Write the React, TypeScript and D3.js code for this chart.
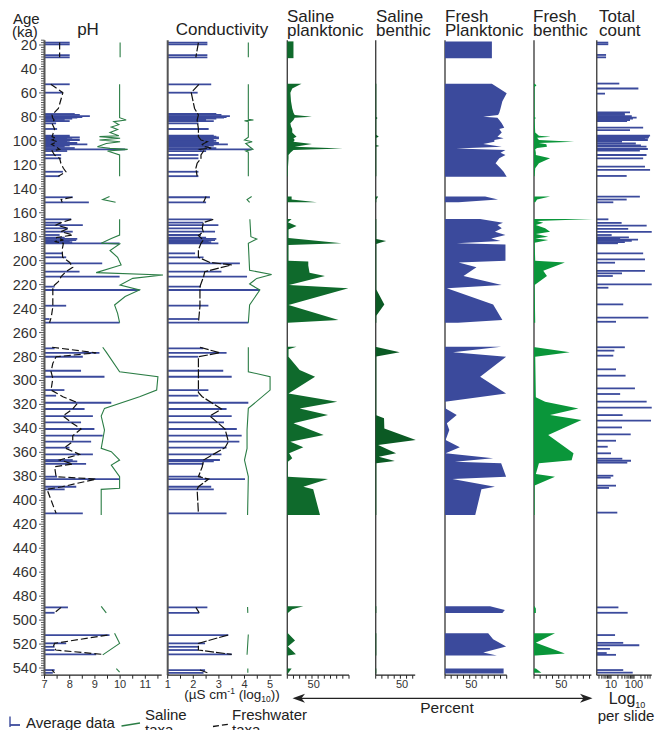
import React from "react";
import * as d3 from "d3";

type Pt = [number, number]; // [age ka, value]

// age ranges with no samples (lines and areas break across them)
const gaps: Pt[] = [[32, 50], [132, 145], [153, 163], [254, 270], [413, 487], [496, 510], [531, 539]];

const ageTicks = d3.range(20, 541, 20);
const phTicks = [7, 8, 9, 10, 11];
const condTicks = [1, 2, 3, 4, 5];
const countLabels = [10, 100];

// ---- pH ----
const phAvg: Pt[] = [
  [18, 8.0], [19.5, 8.0], [28.5, 8.0], [30.3, 8.0],
  [52.8, 8.0], [59.8, 7.73], [77.6, 8.2], [78.4, 8.4], [79.3, 8.8], [80.1, 8.5], [80.7, 8.3], [81.5, 8.1], [82.6, 7.8], [83.5, 8.0], [85.4, 7.46],
  [90.1, 7.5], [95.7, 8.0], [96.5, 8.0], [97.2, 8.4], [97.9, 7.9], [98.6, 8.1], [99.3, 8.4], [100, 8.0], [100.7, 7.9], [101.8, 8.3], [102.9, 8.7],
  [103.9, 8.0], [104.9, 7.8], [106, 8.2], [107.1, 10.2], [108.5, 7.9], [111.8, 7.66], [114.6, 7.66], [125.8, 7.73], [129.5, 7.6],
  [147.1, 8.12], [151.3, 8.76],
  [165.5, 8.06], [168.3, 7.66], [170.3, 8.52], [173, 7.93], [175.8, 8.12], [178.6, 7.6], [180.8, 7.8], [181.8, 8.3], [182.8, 8.26], [183.8, 8.0],
  [184.6, 8.1], [185.5, 9.98], [193.9, 7.73], [197.2, 7.86], [202.2, 9.29], [209.2, 8.39], [213.4, 9.98], [221.7, 7.4], [224.5, 10.77],
  [237.6, 7.86], [248.7, 7.2], [251.8, 9.98],
  [273.2, 7.4], [276.9, 9.18], [280.2, 8.52], [291.9, 8.45], [296.9, 9.38], [308, 7.79], [312.7, 7.46], [318.6, 9.65], [323.8, 8.59],
  [329.7, 8.92], [335, 8.45], [340.5, 8.98], [346.1, 9.31], [351.1, 8.85], [356.1, 7.99], [361.7, 8.92], [366.4, 8.12], [367.5, 8.3],
  [369.7, 8.65], [380.3, 7.5], [382.3, 9.98], [388.7, 8.26], [390.9, 7.8], [410.9, 8.52],
  [489.4, 7.93], [493.9, 7.4],
  [512.5, 9.58], [519.4, 7.86], [522.3, 7.4], [525, 7.4], [528.6, 9.05],
  [541.7, 7.4], [544, 7.33],
];
const phFresh: Pt[] = [
  [18, 7.6], [30.3, 7.6],
  [52.8, 7.25], [59.8, 7.73], [73, 7.55], [78.4, 7.3], [80.7, 7.32], [82.6, 7.38], [85.4, 7.3], [90.1, 7.4], [96.5, 7.3], [97.9, 7.45],
  [99.3, 7.3], [100.7, 7.5], [102.9, 7.28], [104.9, 7.45], [107.1, 7.6], [108.5, 7.3], [111.8, 7.4], [114.6, 7.6], [118.7, 7.65],
  [122.9, 7.75], [125.8, 7.85], [129.5, 7.55],
  [147.1, 8.1], [149, 7.66], [151.3, 7.7],
  [165.5, 8.06], [168.3, 7.66], [170.3, 7.46], [173, 7.95], [175.8, 7.66], [178.6, 8.12], [180.8, 7.46], [182.8, 7.75], [184, 7.4],
  [185.5, 7.75], [191, 7.7], [197.2, 7.72], [201.5, 8.0], [205.6, 8.12], [209.2, 7.85], [213.4, 7.66], [217.5, 7.55], [221.7, 7.33],
  [230, 7.33], [238.6, 7.33], [247, 7.27], [251.8, 7.2],
  [272.3, 7.3], [276.9, 9.05], [280.2, 7.46], [285.7, 7.33], [292.7, 7.26], [298.2, 7.33], [308, 7.26], [313.6, 7.73], [318.6, 8.32],
  [323.8, 8.12], [329.7, 7.73], [335, 8.06], [340.5, 8.45], [346.1, 8.12], [351.1, 8.12], [356.1, 7.79], [361.7, 8.39], [366.4, 7.6],
  [369.7, 8.12], [372, 7.4], [380.3, 7.46], [382.3, 9.05], [388.7, 7.7], [390.9, 7.1], [410.9, 7.46],
  [489.4, 7.66], [493.9, 7.4],
  [512.5, 9.5], [519.4, 7.4], [522.3, 7.35], [525, 7.45], [528.6, 9.3],
  [541.7, 7.3], [544, 7.4],
];
const phSaline: Pt[] = [
  [18, 10.0], [30.3, 10.0],
  [52.8, 9.98], [80.7, 9.98], [82.6, 10.24], [84, 9.75], [86.5, 9.95], [88.5, 9.65], [90.5, 9.9], [93, 9.6], [95.7, 9.95], [96.5, 9.18],
  [97.9, 10.0], [99.3, 9.18], [100.7, 10.0], [102.2, 9.45], [104.9, 9.1], [106.3, 9.6], [107.1, 10.3], [108.5, 9.5], [111.8, 9.98],
  [129.5, 9.98],
  [146.5, 9.58], [149, 9.31], [151.3, 9.82],
  [165.5, 9.98], [178.6, 9.98], [181.5, 9.65], [185.5, 9.25], [186, 9.98], [191.5, 9.6], [197.2, 9.9], [203.6, 10.04], [210, 9.05],
  [212, 11.7], [214.8, 10.5], [220.3, 10.0], [224.5, 10.77], [230, 10.2], [237, 9.78], [244, 9.9], [251.8, 9.98],
  [272.3, 9.31], [276.4, 9.45], [292.7, 9.98], [296.9, 11.5], [308, 11.45], [313.6, 10.77], [323.3, 9.38], [329.7, 9.25], [341.4, 9.38],
  [356.7, 9.25], [359.4, 9.65], [366.4, 9.98], [370.6, 9.65], [380.3, 9.98], [390, 9.98], [390.9, 9.25], [412.3, 9.25],
  [488.5, 9.25], [494, 9.45],
  [511, 9.78], [519.4, 9.98], [529, 9.31],
  [540.5, 9.85], [543.5, 9.98],
];

// ---- conductivity (log10 uS/cm) ----
const condAvg: Pt[] = [
  [18, 2.55], [19.5, 2.55], [28.5, 2.55], [30.3, 2.55],
  [52.8, 2.7], [59.8, 2.17], [77.6, 2.9], [78.4, 3.1], [79.3, 3.43], [80.1, 3.3], [80.7, 3.2], [81.5, 2.9], [82.6, 2.5], [83.5, 2.8],
  [85.4, 2.2], [90.1, 2.6], [95.7, 2.8], [96.5, 2.9], [97.2, 3.0], [97.9, 3.0], [98.6, 2.8], [99.3, 2.7], [100, 2.9], [100.7, 2.8],
  [101.8, 3.0], [102.9, 3.35], [103.9, 2.8], [104.9, 2.6], [106, 2.9], [107.1, 4.28], [108.5, 2.5], [111.8, 2.2], [114.6, 2.2],
  [125.8, 2.2], [129.5, 2.2],
  [147.1, 2.65], [151.3, 2.5],
  [165.5, 2.72], [168.3, 2.39], [170.3, 2.98], [173, 2.35], [175.8, 2.85], [178.6, 2.3], [180.8, 2.5], [181.8, 2.9], [182.8, 2.85],
  [183.8, 2.6], [184.6, 2.7], [185.5, 2.98], [193.9, 2.07], [197.2, 2.4], [202.2, 3.82], [209.2, 3.1], [213.4, 4.1], [221.7, 2.3],
  [224.5, 4.6], [237.6, 2.59], [248.7, 2.2], [251.8, 4.15],
  [273.2, 2.39], [276.9, 3.3], [280.2, 2.2], [291.9, 3.17], [296.9, 3.5], [308, 2.59], [312.7, 2.2], [318.6, 4.15], [323.8, 3.3],
  [329.7, 3.5], [335, 3.2], [340.5, 3.7], [346.1, 3.89], [351.1, 3.8], [356.1, 3.3], [361.7, 3.1], [366.4, 3.04], [367.5, 2.8],
  [369.7, 2.4], [380.3, 2.3], [382.3, 4.02], [388.7, 2.7], [390.9, 2.8], [410.9, 3.3],
  [489.4, 2.55], [493.9, 2.23],
  [512.5, 3.37], [519.4, 2.46], [522.3, 2.2], [525, 2.2], [528.6, 3.5],
  [541.7, 2.46], [544, 2.4],
];
const condFresh: Pt[] = [
  [18, 2.2], [30.3, 2.1],
  [52.8, 2.22], [59.8, 1.92], [73, 2.05], [78.4, 2.2], [82.6, 2.15], [90.1, 2.2], [96.5, 2.2], [99.3, 2.3], [100.7, 2.55], [102.9, 2.35],
  [104.9, 2.45], [106, 2.7], [107.1, 2.25], [108.5, 2.4], [111.8, 2.3], [114.6, 2.3], [118.7, 2.15], [122.9, 2.1], [129.5, 2.15],
  [146.5, 2.5], [151.3, 2.4],
  [165.5, 2.78], [168.3, 2.39], [173, 2.35], [176, 2.39], [179, 2.2], [182.8, 2.39], [185.5, 2.3], [191, 2.2], [197.2, 2.2],
  [201.5, 2.65], [203.6, 3.5], [209.2, 2.45], [213.4, 2.4], [221.7, 2.26], [238, 2.26], [251.8, 2.2],
  [272.3, 2.26], [276.9, 3.04], [280.2, 2.2], [285.7, 2.2], [310, 2.2], [313.6, 2.35], [323.8, 3.1], [329.7, 2.65], [340.5, 3.24],
  [351.1, 3.37], [356.1, 3.24], [361.7, 2.78], [366.4, 2.4], [372, 2.35], [380.3, 2.2], [382.3, 2.6], [388.7, 2.2], [390.9, 2.15],
  [410.9, 2.2],
  [489.4, 2.1], [493.9, 2.23],
  [512.5, 3.35], [519.4, 2.2], [525, 2.2], [528.6, 3.5],
  [541.7, 2.26], [544, 2.55],
];
const condSaline: Pt[] = [
  [18, 4.15], [30.3, 4.15],
  [52.8, 4.15], [82, 4.15], [82.6, 4.35], [83.3, 4.0], [84, 4.15], [97, 4.15], [99.3, 4.0], [100.7, 4.3], [102.2, 4.05], [104.9, 4.2],
  [107.1, 4.33], [108.5, 4.05], [109.5, 4.15], [129.5, 4.15],
  [146.5, 4.28], [149, 4.1], [151.3, 4.2],
  [165.5, 4.21], [180, 4.25], [182, 4.48], [185.5, 4.15], [208, 4.2], [211.5, 5.06], [214.8, 4.48], [219.5, 4.2], [224.5, 4.6],
  [237, 4.2], [251.8, 4.15],
  [272.3, 4.15], [292.7, 4.15], [296.9, 5.0], [308, 5.0], [323.3, 4.15], [341.4, 4.1], [356.7, 4.1], [366.4, 4.0], [380.3, 4.15],
  [412.3, 4.12],
  [489, 4.12], [494, 4.13],
  [512, 4.15], [529, 4.1],
  [540.5, 4.13], [544, 4.13],
];

// ---- diatom groups (%) ----
const salPlank: Pt[] = [
  [17, 10], [31, 10],
  [52.3, 23], [56.3, 8], [59.8, 5], [67, 6], [73, 8], [76.5, 10], [78.4, 12], [79.8, 40], [80.7, 12], [82.6, 10], [85.4, 5], [88, 6],
  [90.1, 8], [93, 8], [96.5, 15], [97.9, 10], [99.3, 12], [100.7, 10], [102.6, 40], [104.9, 12], [106.3, 90], [107.6, 10], [109.9, 5],
  [111.8, 2], [114.6, 2], [122.9, 1], [129.5, 1],
  [146.5, 7], [149, 7], [151.3, 48],
  [165.2, 7], [168, 1], [171, 15], [174, 2], [181, 2], [185.5, 88], [187, 2], [200, 2], [200.8, 34], [204, 34], [210, 36], [212.8, 61],
  [220.3, 3], [223.1, 99], [237, 2], [249.5, 83], [251.8, 1],
  [271.8, 15], [274, 2], [280.2, 2], [291.3, 20], [296.9, 45], [310.8, 2], [317.8, 81], [323.3, 20], [328.9, 66], [335.8, 10],
  [345.6, 59], [351.1, 5], [355.8, 26], [360.8, 3], [365, 8], [367.8, 1], [380.3, 1], [382.3, 66], [388.7, 26], [390.9, 42],
  [412.3, 53],
  [488.5, 26], [491, 8], [494, 1],
  [511, 1], [517, 12.5], [522, 1], [528.6, 14], [529.5, 1],
  [540.5, 7], [544.5, 1],
];
const salBenth: Pt[] = [
  [52.3, 1], [80, 1], [81, 3], [82, 1], [95, 1], [96.5, 5], [97.5, 1], [103.5, 1], [104.3, 6], [105, 1], [129.5, 1],
  [146.5, 4], [149, 1], [151.3, 1],
  [165.2, 1], [182, 1], [183.5, 17], [185, 7], [186, 1], [218, 1], [224, 1], [236.5, 14], [246, 1], [251.8, 1],
  [272, 1], [276.4, 39], [280, 1], [329, 1], [331.6, 13.5], [340, 14], [349.7, 65], [353.9, 4], [360.8, 33], [363.6, 5], [367.2, 31],
  [369.2, 1], [412.3, 1],
  [488.5, 1], [494, 1],
  [511, 1], [529.5, 1],
  [540.5, 1], [544.5, 1],
];
const freshPlank: Pt[] = [
  [17, 76], [31, 76],
  [52.3, 76], [56.3, 88], [60.3, 100], [67, 93], [73, 90], [76.5, 88], [78.4, 86], [79.8, 62], [80.7, 85], [82.6, 88], [85.4, 92],
  [89, 96], [90.1, 88], [93, 92], [96.5, 85], [97.9, 95], [99.3, 80], [100.7, 80], [102.6, 62], [104.9, 92], [106.3, 18], [107.6, 98],
  [109.9, 90], [111.8, 98], [114.6, 88], [118.7, 82], [122.9, 90], [125.8, 95], [129.9, 100],
  [146.5, 65], [149, 86], [151.3, 22],
  [165.2, 57], [168.3, 94], [170.3, 85], [173, 92], [175.8, 81], [178.6, 98], [181.5, 75], [183.5, 90], [185.5, 19], [186.5, 98],
  [200, 98], [201.5, 22], [205.6, 51], [212.8, 30], [220.3, 92], [223.1, 3], [236.5, 78], [249.5, 93], [251.8, 21],
  [271.8, 91], [276.4, 13], [280.2, 99], [296.9, 57], [310.8, 99], [317.8, 0], [323.3, 1], [328.9, 19], [335.8, 3], [341.4, 7],
  [349.7, 1], [355.8, 24], [360.8, 1], [365, 78], [367.8, 16], [369.2, 91], [380.3, 99], [382.3, 12], [388.7, 81], [390.9, 59],
  [412.3, 49],
  [488.5, 73], [491.5, 97], [494, 93],
  [511, 70], [516, 78], [522, 99], [527, 62], [529.5, 84],
  [540.5, 95], [544.5, 95],
];
const freshBenth: Pt[] = [
  [52.3, 1], [53.5, 4], [55, 1], [80, 1], [81, 3], [82, 1], [93, 2], [95.7, 8], [96.5, 27], [97.5, 5], [99.3, 8], [100.7, 65],
  [101.8, 8], [102.9, 20], [104.9, 21], [106, 5], [107.1, 2], [109.9, 3], [111.8, 3], [114.6, 26], [118.7, 8], [122.9, 2], [129.5, 1],
  [146.5, 26], [149, 5], [151.3, 2],
  [165.2, 96], [167, 5], [168.3, 15], [170.3, 3], [173, 18], [175.8, 26], [177.8, 3], [180, 23], [181.5, 2], [182.8, 23], [185, 1],
  [200, 2], [201.5, 50], [208.5, 15], [212.8, 21], [220.3, 1], [251.8, 2],
  [272.3, 2], [276.4, 58], [280.2, 2], [314, 3], [317.8, 18], [323.3, 72], [328.9, 26], [333, 77], [345.6, 23], [360.8, 64],
  [366.5, 61], [369.2, 8], [378, 3], [380.3, 34], [387.7, 1], [412.3, 1],
  [488.5, 1], [490.5, 3], [494, 3],
  [511, 34], [519, 3], [527.8, 50], [529.5, 3],
  [540.5, 3], [544, 12],
];

// ---- total count per slide ----
const totalCount: Pt[] = [
  [18, 7.6], [19.4, 7.6], [28.3, 6.1], [30.3, 6.1],
  [52.2, 23], [56.3, 155], [60.6, 5.5], [76.2, 67], [77.5, 40], [78.4, 40], [79.3, 80], [80.7, 130], [81.5, 90], [82.6, 67], [83.5, 50],
  [89, 250], [91, 67], [95.7, 500], [96.6, 450], [97.5, 420], [98.4, 300], [99.3, 400], [100.7, 30], [102.2, 120], [103.9, 200],
  [104.9, 350], [106.8, 400], [108.2, 180], [111.8, 350], [114.6, 250], [121.6, 300], [124.3, 500], [129.3, 48],
  [146.5, 180], [149, 48], [151.3, 12.6],
  [165.5, 7.7], [168.5, 29], [170.8, 355], [173.5, 56], [176, 590], [178.6, 10.7], [180.5, 60], [181.5, 25], [182.5, 150],
  [183.5, 80], [184.5, 40], [185.5, 20], [193.9, 250], [198.9, 300], [201.7, 15], [208.6, 300], [210.6, 30], [212.8, 12],
  [219.8, 590], [222.6, 7.7], [236.5, 34], [247.6, 420], [251, 16.5],
  [272.3, 40], [275.1, 14], [279.3, 12.6], [290.7, 16.5], [296, 43], [306.6, 110], [311.3, 25], [317.7, 355], [322.7, 590],
  [328.9, 32], [333.6, 550], [339.2, 30], [345, 72], [350.3, 16.5], [355.3, 7.2], [360.8, 10], [365.3, 31], [367, 74], [368.6, 51],
  [379.5, 12.6], [381.1, 9.7], [387.8, 16.5], [389.7, 8.2], [410.3, 18.8],
  [489.4, 21], [493.9, 53],
  [512.5, 15], [519, 34], [521, 170], [524, 9], [527.5, 6.5], [529, 16.5],
  [541.7, 34], [543.8, 88],
];

const FONT = "'Liberation Sans', Arial, Helvetica, sans-serif";
const BLUE = "#3b4a9c";
const GREEN_LINE = "#2b7d45";

const y = d3.scaleLinear().domain([16, 546]).range([40.2, 675.2]);
const phX = d3.scaleLinear().domain([7, 11.65]).range([44.5, 161.7]);
const condX = d3.scaleLinear().domain([1, 5.45]).range([167.7, 281.6]);
const salPlankX = d3.scaleLinear().domain([0, 100]).range([287.3, 349]);
const salBenthX = d3.scaleLinear().domain([0, 64]).range([375.7, 415.2]);
const freshPlankX = d3.scaleLinear().domain([0, 100]).range([445, 506.7]);
const freshBenthX = d3.scaleLinear().domain([0, 93]).range([534, 591.4]);
const countX = d3.scaleLog().domain([1, 1000]).range([588, 657]);
const countMin = 2.4, countMax = 590;

const AXIS_BOTTOM = y(546);
const AXIS_TOP = y(16);

// split a series into pieces that don't cross a gap
function segments(pts: Pt[]): Pt[][] {
  const segOf = (a: number) => gaps.filter((g) => g[0] < a).length;
  const out: Pt[][] = [];
  let cur: Pt[] = [];
  let last = -1;
  for (const p of pts) {
    const s = segOf(p[0]);
    if (s !== last && cur.length) { out.push(cur); cur = []; }
    cur.push(p);
    last = s;
  }
  if (cur.length) out.push(cur);
  return out;
}

const Bars = ({ data, xs, base, color = BLUE }) => (
  <g>
    {data.map(([a, v], i) => (
      <line key={i} x1={xs(base)} x2={xs(v)} y1={y(a)} y2={y(a)} stroke={color} strokeWidth={1.8} />
    ))}
  </g>
);

const Line = ({ data, xs, color, width = 1.1, dash = undefined }) => {
  const line = d3.line<Pt>().x((d) => xs(d[1])).y((d) => y(d[0]));
  return (
    <g>
      {segments(data).map((s, i) => (
        <path key={i} d={line(s) || ""} fill="none" stroke={color} strokeWidth={width} strokeDasharray={dash} />
      ))}
    </g>
  );
};

const Area = ({ data, xs, color }) => {
  const area = d3.area<Pt>().y((d) => y(d[0])).x0(xs(0)).x1((d) => xs(d[1]));
  return (
    <g>
      {segments(data).map((s, i) => (
        <path key={i} d={area(s) || ""} fill={color} stroke="none" />
      ))}
    </g>
  );
};

const VAxis = ({ x, color = "#444", width = 1.4 }) => (
  <line x1={x} x2={x} y1={AXIS_TOP} y2={AXIS_BOTTOM} stroke={color} strokeWidth={width} />
);

// bottom axis with ticks pointing down
const BottomAxis = ({ x0, x1, ticks, labels, xs, labelShift = 0 }) => (
  <g>
    <line x1={x0} x2={x1} y1={AXIS_BOTTOM} y2={AXIS_BOTTOM} stroke="#222" strokeWidth={1.2} />
    {ticks.map((t, i) => (
      <line key={i} x1={xs(t)} x2={xs(t)} y1={AXIS_BOTTOM} y2={AXIS_BOTTOM + 3.5} stroke="#222" strokeWidth={1} />
    ))}
    {labels.map((t, i) => (
      <text key={i} x={xs(t) + labelShift} y={AXIS_BOTTOM + 12.5} fontSize={11} textAnchor="middle" fill="#333">
        {t}
      </text>
    ))}
  </g>
);

const Title = ({ x, lines, anchor = "start" }) => (
  <text x={x} y={lines.length > 1 ? 21.5 : 35} fontSize={17} fill="#222" textAnchor={anchor}>
    {lines.map((l, i) => (
      <tspan key={i} x={x} dy={i === 0 ? 0 : 14.5}>{l}</tspan>
    ))}
  </text>
);

export default function App() {
  const ageMinor = d3.range(16, 547, 2);
  const countTicks = [3, 4, 5, 6, 7, 8, 9, 10, 20, 30, 40, 50, 60, 70, 80, 90, 100, 200, 300, 400, 500];
  const pct = (max: number) => d3.range(0, max + 0.1, 10);

  return (
    <svg width={658} height={730} style={{ position: "absolute", left: 0, top: 0, background: "#fff" }} fontFamily={FONT}>
      {/* titles */}
      <text x={13} y={24} fontSize={15} fill="#222">Age</text>
      <text x={12} y={37} fontSize={15} fill="#222">(ka)</text>
      <Title x={88} lines={["pH"]} anchor="middle" />
      <Title x={222} lines={["Conductivity"]} anchor="middle" />
      <Title x={287} lines={["Saline", "planktonic"]} />
      <Title x={376} lines={["Saline", "benthic"]} />
      <Title x={445} lines={["Fresh", "Planktonic"]} />
      <Title x={533} lines={["Fresh", "benthic"]} />
      <Title x={599} lines={["Total", "count"]} />

      {/* age axis */}
      {ageMinor.map((a) => (
        <line key={a} x1={44.5} x2={a % 20 === 0 ? 39 : 41} y1={y(a)} y2={y(a)} stroke="#333" strokeWidth={0.8} />
      ))}
      {ageTicks.map((a) => (
        <text key={a} x={37} y={y(a) + 5} fontSize={14.5} textAnchor="end" fill="#333">{a}</text>
      ))}

      {/* pH */}
      <Bars data={phAvg} xs={phX} base={7} />
      <Line data={phSaline} xs={phX} color={GREEN_LINE} />
      <Line data={phFresh} xs={phX} color="#111" width={1.2} dash="7 3" />
      <VAxis x={44.5} color="#555" width={2} />
      <BottomAxis x0={44.5} x1={161.7} ticks={d3.range(7, 11.6, 0.5)} labels={phTicks} xs={phX} />

      {/* conductivity */}
      <Bars data={condAvg} xs={condX} base={1} />
      <Line data={condSaline} xs={condX} color={GREEN_LINE} />
      <Line data={condFresh} xs={condX} color="#111" width={1.2} dash="9 2" />
      <VAxis x={167.7} color="#555" width={2} />
      <BottomAxis x0={167.7} x1={281.6} ticks={d3.range(1, 5.5, 0.5)} labels={condTicks} xs={condX} />
      <text x={232} y={699} fontSize={13.5} textAnchor="middle" fill="#222">
        (µS cm<tspan dy={-5} fontSize={8.5}>-1</tspan><tspan dy={5}> (log</tspan>
        <tspan dy={3} fontSize={8.5}>10</tspan><tspan dy={-3}>))</tspan>
      </text>

      {/* saline planktonic */}
      <VAxis x={287.3} />
      <Area data={salPlank} xs={salPlankX} color="#0f6a2c" />
      <BottomAxis x0={287.3} x1={349} ticks={pct(100)} labels={[50]} xs={salPlankX} labelShift={-4.5} />

      {/* saline benthic */}
      <VAxis x={375.7} />
      <Area data={salBenth} xs={salBenthX} color="#0b5a24" />
      <BottomAxis x0={375.7} x1={415.2} ticks={pct(60)} labels={[50]} xs={salBenthX} labelShift={-4.5} />

      {/* fresh planktonic */}
      <VAxis x={445} />
      <Area data={freshPlank} xs={freshPlankX} color={BLUE} />
      <BottomAxis x0={445} x1={506.7} ticks={pct(100)} labels={[50]} xs={freshPlankX} labelShift={-4.5} />

      {/* fresh benthic */}
      <VAxis x={534} />
      <Area data={freshBenth} xs={freshBenthX} color="#0a963a" />
      <BottomAxis x0={534} x1={591.4} ticks={pct(90)} labels={[50]} xs={freshBenthX} labelShift={-3.5} />

      {/* total count */}
      <Bars data={totalCount} xs={countX} base={countMin} />
      <VAxis x={countX(countMin)} />
      <BottomAxis x0={countX(countMin)} x1={countX(countMax)} ticks={countTicks} labels={countLabels} xs={countX} />
      <text x={627} y={704} fontSize={16} textAnchor="middle" fill="#222">
        Log<tspan dy={4} fontSize={9}>10</tspan>
      </text>
      <text x={626} y={721} fontSize={15} textAnchor="middle" fill="#222">per slide</text>

      {/* percent arrow */}
      <line x1={300} x2={585} y1={698.3} y2={698.3} stroke="#222" strokeWidth={1.3} />
      <polygon points="292.5,698.3 305,693.8 301.5,698.3 305,702.8" fill="#222" />
      <polygon points="592.5,698.3 580,693.8 583.5,698.3 580,702.8" fill="#222" />
      <text x={447} y={713} fontSize={15.5} textAnchor="middle" fill="#222">Percent</text>

      {/* legend */}
      <line x1={10} x2={10} y1={716.5} y2={727} stroke={BLUE} strokeWidth={1.4} />
      <line x1={10} x2={20} y1={725} y2={725} stroke={BLUE} strokeWidth={1.8} />
      <text x={26} y={728} fontSize={15} fill="#222">Average data</text>
      <line x1={121.5} x2={140} y1={726} y2={723} stroke={GREEN_LINE} strokeWidth={1.3} />
      <text x={145} y={720} fontSize={15} fill="#222">Saline</text>
      <text x={145} y={735} fontSize={15} fill="#222">taxa</text>
      <line x1={213} x2={230} y1={726.5} y2={724} stroke="#111" strokeWidth={1.3} strokeDasharray="6 3" />
      <text x={232} y={720} fontSize={15} fill="#222">Freshwater</text>
      <text x={232} y={735} fontSize={15} fill="#222">taxa</text>
    </svg>
  );
}
